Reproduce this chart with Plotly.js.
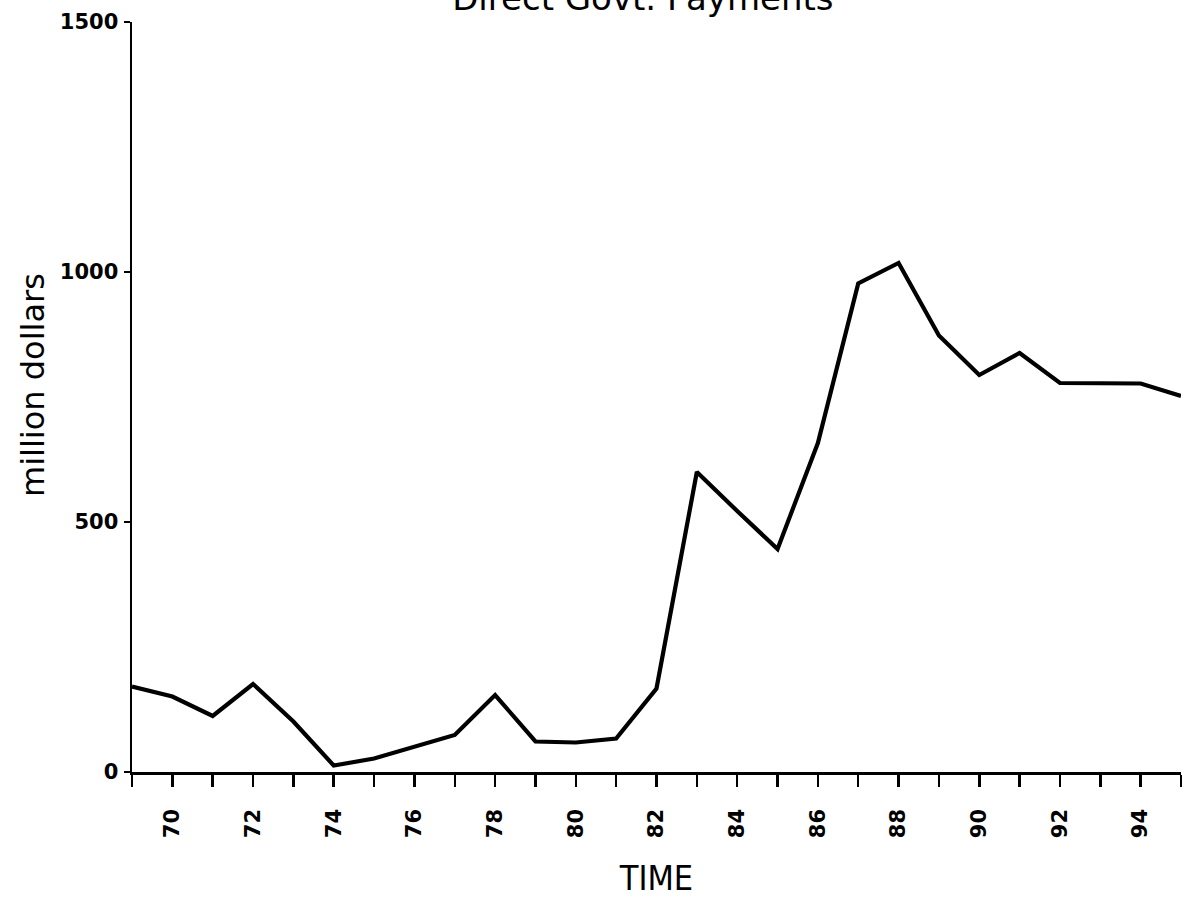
<!DOCTYPE html>
<html>
<head>
<meta charset="utf-8">
<script src="https://cdn.plot.ly/plotly-3.0.1.min.js"></script>
<style>html,body{margin:0;padding:0;background:#fff;}#chart{width:1184px;height:898px;}</style>
</head>
<body>
<div id="chart"></div>
<script>
// Data
var years = [69,70,71,72,73,74,75,76,77,78,79,80,81,82,83,84,85,86,87,88,89,90,91,92,93,94,95];
var payments = [171,151,112,176,101,13,27,51,74,154,61,59,67,167,600,522,446,658,977,1018,873,794,838,778,777,777,752];
var xTickVals = [70,72,74,76,78,80,82,84,86,88,90,92,94];
var xTickText = ["70","72","74","76","78","80","82","84","86","88","90","92","94"];
var yTickVals = [0,500,1000,1500];
var yTickText = ["0","500","1000","1500"];

var trace = {
  x: years, y: payments, type: 'scatter', mode: 'lines',
  line: {color: '#000', width: 4.2}, hoverinfo: 'none'
};

var layout = {
  width: 1184, height: 898,
  paper_bgcolor: '#fff', plot_bgcolor: '#fff',
  margin: {l: 132, r: 3, t: 22, b: 126},
  showlegend: false,
  title: {
    text: 'Direct Govt. Payments',
    font: {family: 'DejaVu Sans', size: 34, color: '#000'},
    x: 0.487, xref: 'paper', xanchor: 'center',
    yref: 'container', y: 0.989, yanchor: 'bottom'
  },
  xaxis: {
    range: [69, 95], showgrid: false, zeroline: false,
    showline: true, linecolor: '#000', linewidth: 2.5,
    tickmode: 'array', tickvals: xTickVals, ticktext: xTickText,
    ticks: 'outside', ticklen: 12, tickwidth: 2.5, tickcolor: '#000',
    tickangle: -90, ticklabelstandoff: 14,
    tickfont: {family: 'DejaVu Sans', size: 21, color: '#000', weight: 'bold'},
    minor: {tick0: 69, dtick: 1, ticks: 'outside', ticklen: 12, tickwidth: 2.5, tickcolor: '#000', showgrid: false},
    title: {text: 'TIME', font: {family: 'DejaVu Sans Condensed', size: 34, color: '#000'}, standoff: 32}
  },
  yaxis: {
    range: [0, 1500], showgrid: false, zeroline: false,
    showline: true, linecolor: '#000', linewidth: 2.5,
    tickmode: 'array', tickvals: yTickVals, ticktext: yTickText,
    ticks: 'outside', ticklen: 6, tickwidth: 2.5, tickcolor: '#000',
    ticklabelstandoff: 1,
    tickfont: {family: 'DejaVu Sans', size: 21, color: '#000', weight: 'bold'}
  },
  annotations: [{
    text: 'million dollars', textangle: -90, showarrow: false,
    xref: 'paper', x: 0, xanchor: 'center', xshift: -99,
    yref: 'paper', y: 0.516, yanchor: 'middle',
    font: {family: 'DejaVu Sans', size: 32, color: '#000'}
  }]
};

Plotly.newPlot('chart', [trace], layout, {displayModeBar: false, staticPlot: true});
</script>
</body>
</html>
